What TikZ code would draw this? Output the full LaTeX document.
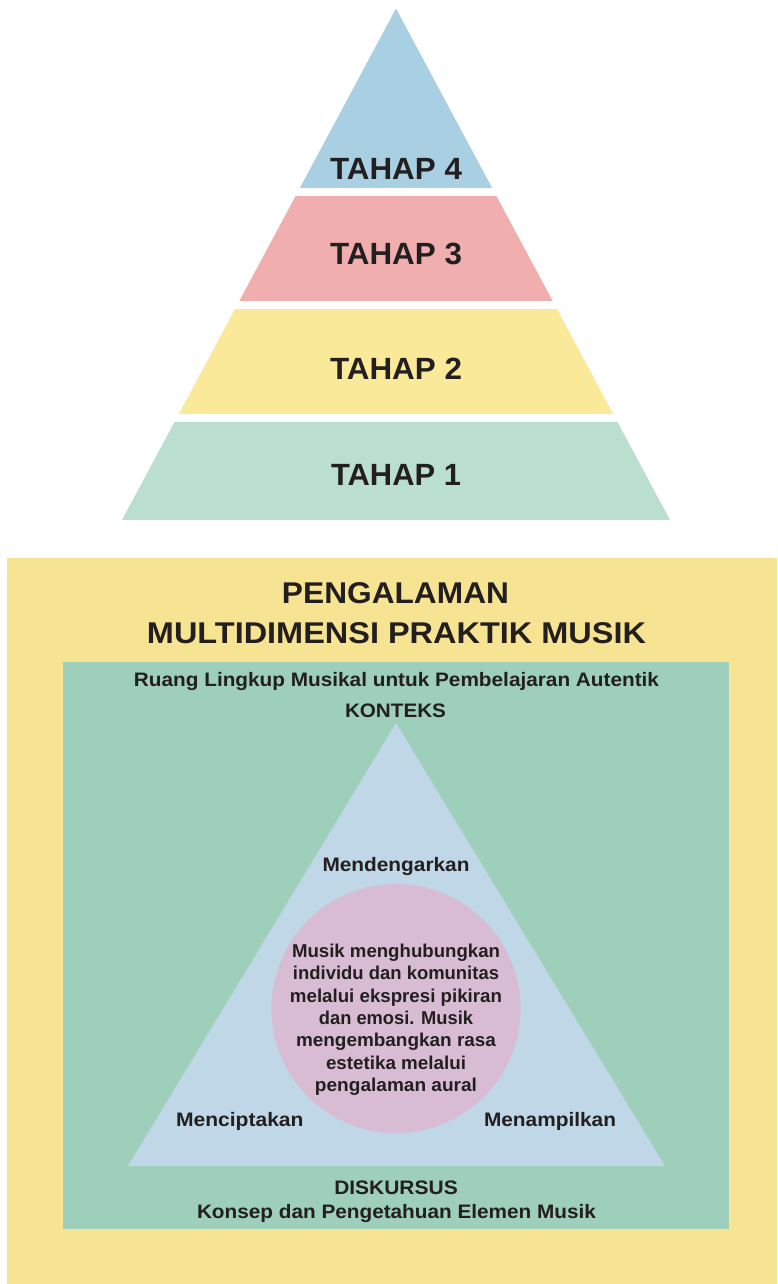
\documentclass[tikz,border=0pt]{standalone}
\usepackage{fontspec}
\usepackage{graphicx}
\setmainfont{Liberation Sans}
\definecolor{ink}{HTML}{231F20}
\definecolor{tfour}{HTML}{A9CFE3}
\definecolor{tthree}{HTML}{F0AEAE}
\definecolor{ttwo}{HTML}{FBE99A}
\definecolor{tone}{HTML}{BADFCE}
\definecolor{ybg}{HTML}{F7E492}
\definecolor{gbox}{HTML}{9DCFBA}
\definecolor{tri}{HTML}{BFD7E6}
\definecolor{circ}{HTML}{D8BCD3}
\newcommand\fw[2]{\resizebox{#1pt}{\height}{#2}}
\newcommand\fs[1]{\fontsize{#1}{#1}\selectfont\bfseries}
\begin{document}
\begin{tikzpicture}[x=1pt,y=-1pt,
  txt/.style={inner sep=0pt, anchor=base, text=ink}]
\useasboundingbox (0,0) rectangle (777,1284);
\fill[white] (0,0) rectangle (777,1284);
% top pyramid
\begin{scope}
\clip (396,8.6) -- (122,520) -- (670,520) -- cycle;
\fill[tfour] (0,0) rectangle (777,188.5);
\fill[tthree] (0,196) rectangle (777,301);
\fill[ttwo] (0,309) rectangle (777,414);
\fill[tone] (0,422) rectangle (777,520);
\end{scope}
\node[txt, font=\fs{30.7}] (tah4) at (396,179) {\fw{132}{TAHAP 4}};
\node[txt, font=\fs{30.7}] (tah3) at (396,264.5) {\fw{132}{TAHAP 3}};
\node[txt, font=\fs{30.7}] (tah2) at (396,379) {\fw{132}{TAHAP 2}};
\node[txt, font=\fs{30.7}] (tah1) at (396,485.5) {\fw{130}{TAHAP 1}};
% bottom panel
\fill[ybg] (7,557.7) rectangle (777,1284);
\fill[gbox] (63,662) rectangle (729,1228.7);
\fill[tri] (396,723) -- (128,1166) -- (665,1166) -- cycle;
\fill[circ] (396,1008.5) circle[radius=124.5];
\node[txt, font=\fs{30}] (ttl1) at (395.5,603) {\fw{227}{PENGALAMAN}};
\node[txt, font=\fs{30}] (ttl2) at (396.5,643) {\fw{499}{MULTIDIMENSI PRAKTIK MUSIK}};
\node[txt, font=\fs{19.5}] (ruang) at (396.5,686) {\fw{525}{Ruang Lingkup Musikal untuk Pembelajaran Autentik}};
\node[txt, font=\fs{19.5}] (kont) at (395.5,717) {\fw{101}{KONTEKS}};
\node[txt, font=\fs{19.5}] (disk) at (396,1194) {\fw{123.5}{DISKURSUS}};
\node[txt, font=\fs{19.5}] (kons) at (396.5,1218.3) {\fw{399}{Konsep dan Pengetahuan Elemen Musik}};
\node[txt, font=\fs{19.5}] (mden) at (396,871) {\fw{147}{Mendengarkan}};
\node[txt, font=\fs{19.5}] (mcip) at (239.8,1126) {\fw{127.5}{Menciptakan}};
\node[txt, font=\fs{19.5}] (mtam) at (550,1126) {\fw{132}{Menampilkan}};
\foreach \t/\w/\y [count=\i] in {Musik menghubungkan/208/957.3,
  individu dan komunitas/206/979.7,
  melalui ekspresi pikiran/212/1002,
  dan emosi. Musik/154/1024.5,
  mengembangkan rasa/200/1046.9,
  estetika melalui/140/1069.3,
  pengalaman aural/162/1091.7}
  \node[txt, font=\fs{18.6}] (c\i) at (396,\y) {\fw{\w}{\t}};
\end{tikzpicture}
\end{document}
